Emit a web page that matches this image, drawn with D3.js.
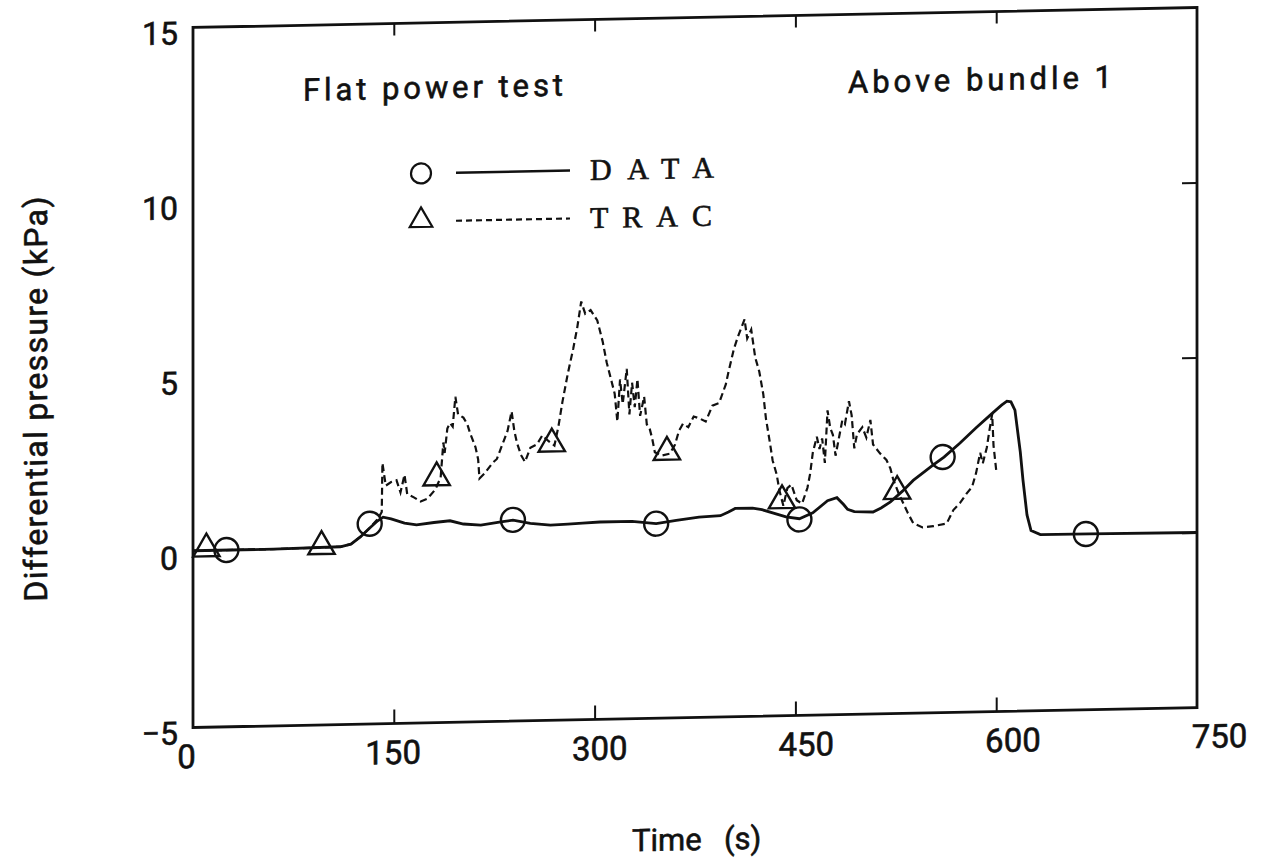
<!DOCTYPE html>
<html>
<head>
<meta charset="utf-8">
<script src="https://cdn.jsdelivr.net/npm/d3@7"></script>
<style>
  body { margin: 0; background: #fff; }
  svg text { fill: #111; stroke: #111; stroke-width: 0.6px; }
</style>
</head>
<body>
<svg id="chart" width="1263" height="861"></svg>
<script>
var data_time = [0, 60, 110, 118, 125, 132, 138, 142, 148, 158, 167, 180, 192, 202, 215, 230, 239, 252, 267, 280,
    291, 304, 328, 346, 361, 378, 394, 400, 405, 418, 425, 433, 443, 453, 463, 474, 481, 486, 489, 494,
    508, 514, 521, 530, 538, 553, 561, 573, 585, 597, 604, 608, 611, 614, 618, 620, 623, 626, 633, 670, 750];
var data_dp = [0.05, 0.05, 0.08, 0.15, 0.35, 0.6, 0.8, 0.9, 0.85, 0.72, 0.66, 0.72, 0.76, 0.66, 0.62, 0.7, 0.74, 0.64, 0.58, 0.6,
    0.62, 0.64, 0.64, 0.56, 0.64, 0.72, 0.75, 0.85, 0.95, 0.95, 0.9, 0.8, 0.68, 0.62, 0.78, 1.12, 1.2, 1.0, 0.86, 0.79,
    0.77, 0.88, 1.05, 1.35, 1.65, 2.08, 2.3, 2.69, 3.12, 3.52, 3.75, 3.86, 3.84, 3.6, 2.4, 1.6, 0.6, 0.15, 0.03, 0.02, 0.0];

var trac_time = [0, 60, 110, 118, 125, 132, 138, 141, 141.5, 144, 148, 152, 155, 158, 160, 165, 170, 175, 181, 185,
    187, 188, 190, 192, 194, 196, 198, 202, 205, 207, 211, 213, 214, 218, 224, 227, 232, 235, 238, 240,
    242, 245, 248, 252, 257, 261, 265, 270, 273, 276, 280, 284, 287, 290, 293, 297, 302, 306, 309, 312,
    315, 317, 319, 321, 324, 326, 328, 330, 332, 334, 337, 339, 341, 343, 345, 350, 356, 360, 363, 366,
    370, 374, 378, 383, 388, 393, 398, 400, 404, 407, 410, 412, 414, 417, 420, 423, 426, 428, 431, 433,
    436, 438, 441, 444, 447, 451, 455, 459, 461, 463, 466, 468, 470, 472, 474, 476, 478, 480, 482, 485,
    487, 490, 492, 494, 496, 500, 503, 506, 508, 513, 518, 521, 523, 527, 534, 538, 545, 553, 563, 568,
    573, 578, 582, 585, 588, 590, 593, 595, 597, 598, 600];
var trac_dp = [0.05, 0.05, 0.08, 0.15, 0.35, 0.6, 0.85, 1.05, 2.45, 1.8, 1.9, 1.95, 1.6, 2.1, 1.55, 1.45, 1.33, 1.4, 1.66, 2.0,
    3.0, 2.7, 3.4, 3.55, 3.45, 4.3, 3.8, 3.7, 3.5, 3.25, 2.85, 2.5, 1.95, 2.1, 2.4, 2.5, 3.0, 3.3, 3.85, 3.3,
    2.95, 2.6, 2.4, 2.8, 2.9, 3.15, 3.0, 2.85, 3.4, 4.1, 4.9, 5.6, 6.2, 6.95, 6.6, 6.7, 6.4, 5.8, 5.2, 4.75,
    4.3, 3.5, 4.7, 4.0, 5.0, 3.7, 4.6, 3.9, 4.7, 3.65, 4.2, 3.4, 3.3, 3.0, 2.6, 2.5, 2.55, 2.8, 3.2, 3.4,
    3.3, 3.6, 3.55, 3.45, 3.9, 3.97, 4.5, 4.85, 5.5, 5.85, 6.15, 6.35, 5.8, 6.05, 5.25, 4.85, 4.2, 3.5, 2.8, 2.3,
    1.9, 1.45, 1.0, 1.5, 1.6, 1.15, 1.05, 1.5, 1.9, 2.5, 2.95, 2.6, 2.9, 2.2, 3.7, 3.2, 3.0, 2.4, 2.8, 3.4,
    3.3, 3.95, 3.55, 2.6, 3.0, 3.2, 2.9, 3.4, 2.7, 2.45, 2.25, 2.0, 1.7, 1.3, 0.72, 0.43, 0.3, 0.33, 0.4, 0.78,
    0.98, 1.25, 1.43, 1.83, 2.4, 2.1, 2.55, 3.05, 3.5, 2.6, 1.9];

// symbols
var circle_time = [25, 132, 239, 346, 453, 560, 667];
var circle_dp = [0.05, 0.72, 0.75, 0.56, 0.6, 2.3, 0.02];
var triangle_time = [10, 96, 182, 268, 354, 440, 526];
var triangle_dp = [0.1, 0.1, 2.0, 2.9, 2.6, 1.15, 1.35];

var x_ticks = [0, 150, 300, 450, 600, 750];
var y_ticks = [-5, 0, 5, 10, 15];

var svg = d3.select('#chart');
var sans = 'Roboto, "DejaVu Sans", sans-serif';
var serif = '"Liberation Serif", "DejaVu Serif", serif';

// the scan is slightly sheared: right side sits ~20px higher than the left
var g = svg.append('g')
    .attr('transform', 'translate(695,0) skewY(-1.14) translate(-695,0)');

var x = d3.scaleLinear().domain([0, 750]).range([193, 1197]);
var y = d3.scaleLinear().domain([-5, 15]).range([717.5, 17.5]);
// tick numbers on the original do not sit exactly under the ticks
var x_lab = d3.scaleLinear().domain([0, 750]).range([186, 1219]);

function zip(t, v) {
    return t.map(function(d, i) { return {t: d, v: v[i]}; });
}

// inner ticks
g.append('g').attr('transform', 'translate(0,' + y(-5) + ')')
    .call(d3.axisTop(x).tickValues([150, 300, 450, 600]).tickSizeInner(14).tickSizeOuter(0).tickFormat(''));
g.append('g').attr('transform', 'translate(0,' + y(15) + ')')
    .call(d3.axisBottom(x).tickValues([150, 300, 450, 600]).tickSizeInner(12).tickSizeOuter(0).tickFormat(''));
g.append('g').attr('transform', 'translate(' + x(750) + ',0)')
    .call(d3.axisLeft(y).tickValues([0, 5, 10]).tickSizeInner(15).tickSizeOuter(0).tickFormat(''));
g.selectAll('.domain').remove();
g.selectAll('.tick line').attr('stroke', '#111').attr('stroke-width', 2);

// tick labels
var xl = g.append('g').attr('transform', 'translate(0,' + (y(-5) + 14) + ')')
    .call(d3.axisBottom(x_lab).tickValues(x_ticks).tickSize(0).tickFormat(d3.format('d')));
xl.select('.domain').remove();
xl.selectAll('text').attr('font-family', sans).attr('font-size', 33).attr('dy', '0.71em');

var yl = g.append('g').attr('transform', 'translate(' + (x(0) - 15) + ',0)')
    .call(d3.axisLeft(y).tickValues(y_ticks).tickSize(0).tickPadding(0)
        .tickFormat(function(d) { return d < 0 ? '\u2212' + Math.abs(d) : d; }));
yl.select('.domain').remove();
yl.selectAll('text').attr('font-family', sans).attr('font-size', 32).attr('dy', '0.5em');

// frame
g.append('rect')
    .attr('x', x(0)).attr('y', y(15))
    .attr('width', x(750) - x(0)).attr('height', y(-5) - y(15))
    .attr('fill', 'none').attr('stroke', '#111').attr('stroke-width', 2.8);

var line = d3.line()
    .x(function(d) { return x(d.t); })
    .y(function(d) { return y(d.v); });

g.append('path')
    .datum(zip(trac_time, trac_dp))
    .attr('d', line)
    .attr('fill', 'none').attr('stroke', '#111').attr('stroke-width', 2.2)
    .attr('stroke-dasharray', '7,4');

g.append('path')
    .datum(zip(data_time, data_dp))
    .attr('d', line)
    .attr('fill', 'none').attr('stroke', '#111').attr('stroke-width', 2.8);

var tri = d3.symbol().type(d3.symbolTriangle).size(300);

g.selectAll('circle.mk')
    .data(zip(circle_time, circle_dp))
    .join('circle')
    .attr('class', 'mk')
    .attr('cx', function(d) { return x(d.t); })
    .attr('cy', function(d) { return y(d.v); })
    .attr('r', 12)
    .attr('fill', 'none').attr('stroke', '#111').attr('stroke-width', 2.4);

g.selectAll('path.mk')
    .data(zip(triangle_time, triangle_dp))
    .join('path')
    .attr('class', 'mk')
    .attr('d', tri)
    .attr('transform', function(d) { return 'translate(' + x(d.t) + ',' + y(d.v) + ')'; })
    .attr('fill', 'none').attr('stroke', '#111').attr('stroke-width', 2.4);

// annotations
g.append('text').attr('x', 303).attr('y', 93)
    .attr('font-family', sans).attr('font-size', 31)
    .attr('textLength', 260).attr('lengthAdjust', 'spacing')
    .text('Flat power test');
g.append('text').attr('x', 848).attr('y', 96)
    .attr('font-family', sans).attr('font-size', 31)
    .attr('textLength', 264).attr('lengthAdjust', 'spacing')
    .text('Above bundle 1');

// legend
var legend = g.append('g');
legend.append('circle').attr('cx', 421).attr('cy', 168).attr('r', 10)
    .attr('fill', 'none').attr('stroke', '#111').attr('stroke-width', 2.2);
legend.append('line').attr('x1', 456).attr('x2', 570).attr('y1', 168).attr('y2', 168)
    .attr('stroke', '#111').attr('stroke-width', 2.6);
legend.append('text').attr('x', 590).attr('y', 178)
    .attr('font-family', serif).attr('font-size', 30)
    .attr('textLength', 124).attr('lengthAdjust', 'spacing')
    .text('DATA');
legend.append('path').attr('d', d3.symbol().type(d3.symbolTriangle).size(220))
    .attr('transform', 'translate(421,215)')
    .attr('fill', 'none').attr('stroke', '#111').attr('stroke-width', 2.2);
legend.append('line').attr('x1', 456).attr('x2', 570).attr('y1', 216).attr('y2', 216)
    .attr('stroke', '#111').attr('stroke-width', 2.2).attr('stroke-dasharray', '6,4');
legend.append('text').attr('x', 590).attr('y', 226)
    .attr('font-family', serif).attr('font-size', 30)
    .attr('textLength', 122).attr('lengthAdjust', 'spacing')
    .text('TRAC');

// axis titles
g.append('text')
    .attr('transform', 'translate(47,386) rotate(-90)')
    .attr('text-anchor', 'middle')
    .attr('font-family', sans).attr('font-size', 32)
    .attr('textLength', 405).attr('lengthAdjust', 'spacing')
    .text('Differential pressure (kPa)');
var xt = g.append('text').attr('y', 850)
    .attr('font-family', sans).attr('font-size', 31);
xt.append('tspan').attr('x', 632).text('Time');
xt.append('tspan').attr('x', 724).text('(s)');
</script>
</body>
</html>
